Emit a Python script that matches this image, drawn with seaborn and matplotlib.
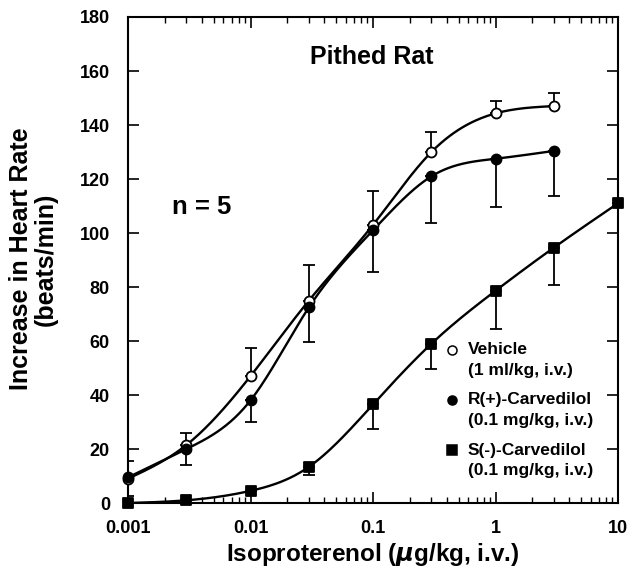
import numpy as np
import pandas as pd
import matplotlib
matplotlib.use("Agg")
import matplotlib.pyplot as plt
import seaborn as sns
from matplotlib.ticker import LogLocator, NullFormatter, FixedLocator

# ---------------- data ----------------
dose_veh = [0.001, 0.003, 0.01, 0.03, 0.1, 0.3, 1, 3]
veh_mean = [9, 21.5, 47, 75, 103, 130, 144.3, 147]
veh_err_up = [6.5, 4.5, 10.5, 13, 12.5, 7.5, 4.6, 4.7]

dose_r = [0.001, 0.003, 0.01, 0.03, 0.1, 0.3, 1, 3]
r_mean = [9.5, 20, 38, 72.5, 101, 121, 127.5, 130.4]
r_err_low = [7, 6, 8, 12.7, 15.3, 17.2, 18, 16.7]

dose_s = [0.001, 0.003, 0.01, 0.03, 0.1, 0.3, 1, 3, 10]
s_mean = [0, 1, 4.5, 13.4, 36.5, 59, 78.6, 94.6, 111]
s_err_low = [0, 0, 0, 3, 9, 9.2, 14.3, 14, 0]

x_ticks = [0.001, 0.01, 0.1, 1, 10]
x_ticklabels = ["0.001", "0.01", "0.1", "1", "10"]
y_ticks = [0, 20, 40, 60, 80, 100, 120, 140, 160, 180]

legend_labels = [("Vehicle", "(1 ml/kg, i.v.)"),
                 ("R(+)-Carvedilol", "(0.1 mg/kg, i.v.)"),
                 ("S(-)-Carvedilol", "(0.1 mg/kg, i.v.)")]


def smooth_curve(x, y, n=300):
    """Natural cubic spline through the points (smooth drawn line)."""
    x = np.asarray(x, float)
    y = np.asarray(y, float)
    N = len(x)
    h = np.diff(x)
    A = np.zeros((N, N))
    b = np.zeros(N)
    A[0, 0] = 1
    A[-1, -1] = 1
    for i in range(1, N - 1):
        A[i, i - 1] = h[i - 1]
        A[i, i] = 2 * (h[i - 1] + h[i])
        A[i, i + 1] = h[i]
        b[i] = 6 * ((y[i + 1] - y[i]) / h[i] - (y[i] - y[i - 1]) / h[i - 1])
    M = np.linalg.solve(A, b)
    xs = np.linspace(x[0], x[-1], n)
    idx = np.clip(np.searchsorted(x, xs) - 1, 0, N - 2)
    x0, x1 = x[idx], x[idx + 1]
    hh = h[idx]
    ys = (M[idx] * (x1 - xs) ** 3 / (6 * hh) + M[idx + 1] * (xs - x0) ** 3 / (6 * hh)
          + (y[idx] / hh - M[idx] * hh / 6) * (x1 - xs)
          + (y[idx + 1] / hh - M[idx + 1] * hh / 6) * (xs - x0))
    return xs, ys


sns.set_theme(style="ticks")
plt.rcParams["font.family"] = ["Liberation Sans", "DejaVu Sans"]
plt.rcParams["font.weight"] = "bold"
plt.rcParams["mathtext.fontset"] = "dejavusans"
plt.rcParams["text.color"] = "black"
plt.rcParams["axes.labelcolor"] = "black"

fig = plt.figure(figsize=(6.3, 5.71), dpi=100)
ax = fig.add_axes([128 / 630, 1 - 503 / 571, 490 / 630, 486 / 571])

series = [
    (dose_veh, veh_mean, "o", "white", 7.2, [np.zeros(len(veh_err_up)), veh_err_up]),
    (dose_r, r_mean, "o", "black", 7.2, [r_err_low, np.zeros(len(r_err_low))]),
    (dose_s, s_mean, "s", "black", 7.2, [s_err_low, np.zeros(len(s_err_low))]),
]

for xd, yd, mk, fc, ms, yerr in series:
    lx, ly = smooth_curve(np.log10(xd), yd)
    curve = pd.DataFrame({"x": 10 ** lx, "y": ly})
    sns.lineplot(data=curve, x="x", y="y", ax=ax, color="black", lw=1.7,
                 estimator=None, sort=False, zorder=2)
    ax.errorbar(xd, yd, yerr=yerr, fmt="none", ecolor="black", elinewidth=1.3,
                capsize=4, capthick=1.3, zorder=3)

for xd, yd, mk, fc, ms, yerr in series:
    df = pd.DataFrame({"x": xd, "y": yd})
    sns.scatterplot(data=df, x="x", y="y", ax=ax, marker=mk, s=ms**2,
                    facecolor=fc, edgecolor="black", linewidth=1.3, zorder=4,
                    clip_on=False)

ax.set_xscale("log")
ax.set_xlim(0.001, 10)
ax.set_ylim(0, 180)
ax.xaxis.set_major_locator(FixedLocator(x_ticks))
ax.set_xticklabels(x_ticklabels)
ax.xaxis.set_minor_locator(LogLocator(base=10, subs=np.arange(2, 10), numticks=20))
ax.xaxis.set_minor_formatter(NullFormatter())
ax.set_yticks(y_ticks)
ax.set_yticklabels([str(v) for v in y_ticks])

ax.tick_params(axis="both", which="major", direction="in", length=8, width=1.2,
               top=True, right=True, labelsize=13, colors="black")
ax.tick_params(axis="x", which="major", pad=12)
ax.tick_params(axis="y", which="major", pad=13)
ax.tick_params(axis="x", which="minor", direction="in", length=4.5, width=1.0,
               top=True, bottom=True, colors="black")
for lab in ax.get_xticklabels() + ax.get_yticklabels():
    lab.set_fontweight("bold")

for sp in ax.spines.values():
    sp.set_linewidth(1.5)
    sp.set_color("black")

ax.set_xlabel(r"Isoproterenol ($\mu$g/kg, i.v.)", fontsize=17.5, fontweight="bold",
              labelpad=3, color="black")
ax.set_ylabel("")
fig.text(21 / 630, 1 - 259 / 571, "Increase in Heart Rate", rotation=90,
         ha="center", va="center", fontsize=18, fontweight="bold", color="black")
fig.text(46 / 630, 1 - 259 / 571, "(beats/min)", rotation=90,
         ha="center", va="center", fontsize=18, fontweight="bold", color="black")

ax.text(0.498, 0.918, "Pithed Rat", transform=ax.transAxes, ha="center", va="center",
        fontsize=18, fontweight="bold", color="black")
ax.text(0.151, 0.609, "n = 5", transform=ax.transAxes, ha="center", va="center",
        fontsize=18.5, fontweight="bold", color="black")

# legend drawn manually
leg_y = [0.315, 0.212, 0.109]
leg_mk = [("o", "white"), ("o", "black"), ("s", "black")]
for (l1, l2), yy, (mk, fc) in zip(legend_labels, leg_y, leg_mk):
    ax.plot([0.661], [yy], marker=mk, markersize=6.5, markerfacecolor=fc,
            markeredgecolor="black", markeredgewidth=1.1, transform=ax.transAxes,
            linestyle="none")
    ax.text(0.693, yy, l1, transform=ax.transAxes, ha="left", va="center",
            fontsize=12.5, fontweight="bold", color="black")
    ax.text(0.693, yy - 0.043, l2, transform=ax.transAxes, ha="left", va="center",
            fontsize=12.5, fontweight="bold", color="black")

fig.savefig("out.png", dpi=100, facecolor="white")
